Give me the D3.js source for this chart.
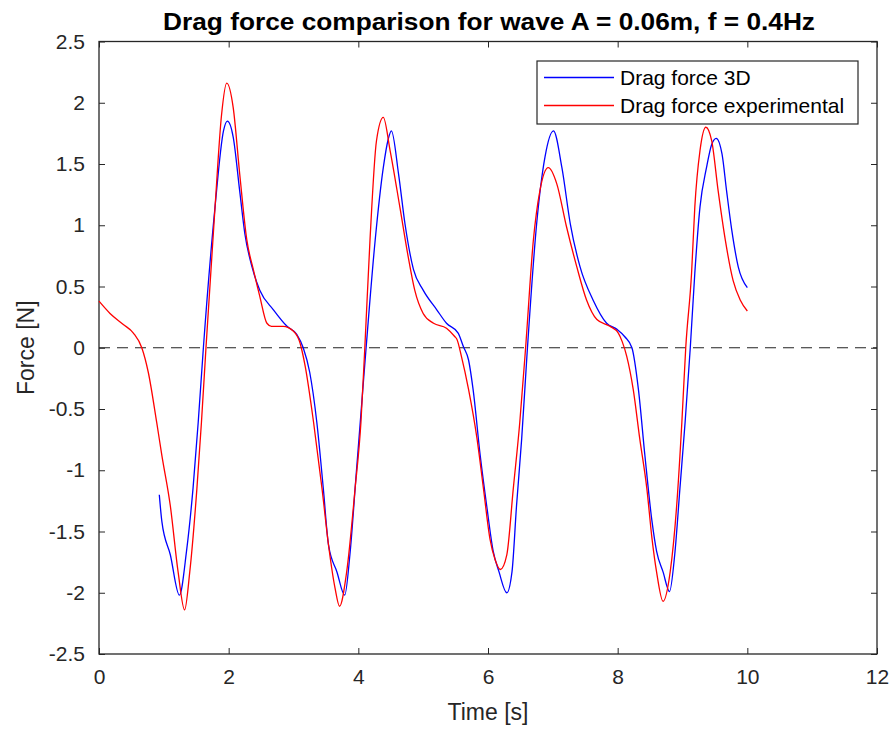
<!DOCTYPE html>
<html>
<head>
<meta charset="utf-8">
<script src="https://cdn.jsdelivr.net/npm/d3@7"></script>
<style>
  html, body { margin: 0; padding: 0; background: #fff; }
  svg { display: block; font-family: "Liberation Sans", Arial, Helvetica, sans-serif; }
</style>
</head>
<body>
<svg id="chart" width="896" height="733"></svg>
<script>
// Drag force time series (time in s, force in N)
const timeExp = [0.00,0.17,0.375,0.53,0.66,0.76,0.89,0.97,1.10,1.22,1.32,1.40,1.51,1.58,1.65,1.79,1.89,1.97,2.07,2.17,2.28,2.38,2.48,2.59,2.66,2.84,3.00,3.10,3.12,3.18,3.31,3.44,3.54,3.64,3.71,3.82,3.95,4.04,4.10,4.18,4.28,4.385,4.49,4.64,4.77,4.87,5.00,5.16,5.36,5.49,5.52,5.59,5.70,5.83,5.93,6.03,6.11,6.19,6.29,6.39,6.49,6.58,6.70,6.80,6.93,7.06,7.21,7.37,7.52,7.68,7.88,8.01,8.07,8.14,8.24,8.34,8.45,8.53,8.60,8.70,8.81,8.91,8.99,9.05,9.14,9.19,9.27,9.36,9.45,9.55,9.66,9.78,9.89,10.0];
const forceExp = [0.38,0.28,0.19,0.12,0.00,-0.20,-0.61,-0.88,-1.29,-1.83,-2.14,-1.83,-1.15,-0.61,0.00,1.15,1.90,2.16,1.96,1.42,0.88,0.64,0.42,0.20,0.175,0.175,0.135,0.04,0.00,-0.15,-0.61,-1.15,-1.61,-1.96,-2.11,-1.83,-1.15,-0.61,0.00,0.88,1.69,1.88,1.61,1.15,0.74,0.47,0.28,0.20,0.16,0.09,0.07,-0.07,-0.34,-0.74,-1.15,-1.56,-1.73,-1.81,-1.69,-1.15,-0.61,0.00,0.88,1.28,1.47,1.34,0.99,0.66,0.39,0.23,0.175,0.12,0.05,-0.07,-0.34,-0.74,-1.15,-1.56,-1.83,-2.07,-1.83,-1.29,-0.61,0.00,0.61,1.15,1.61,1.80,1.69,1.28,0.88,0.55,0.39,0.30];

const time3D = [0.93,0.97,1.10,1.24,1.35,1.45,1.53,1.61,1.79,1.92,1.98,2.07,2.17,2.25,2.36,2.48,2.69,2.90,3.05,3.15,3.25,3.36,3.46,3.54,3.67,3.79,3.87,3.97,4.05,4.12,4.26,4.385,4.46,4.51,4.62,4.72,4.85,5.00,5.21,5.36,5.54,5.62,5.70,5.77,5.88,5.98,6.08,6.17,6.29,6.37,6.44,6.52,6.60,6.75,6.88,7.01,7.14,7.27,7.42,7.62,7.83,7.99,8.11,8.22,8.32,8.42,8.53,8.60,8.70,8.80,8.88,8.96,9.04,9.12,9.19,9.27,9.37,9.45,9.52,9.61,9.68,9.76,9.86,10.0];
const force3D = [-1.20,-1.42,-1.69,-2.02,-1.66,-1.15,-0.61,0.00,1.15,1.77,1.85,1.72,1.28,0.93,0.66,0.47,0.31,0.175,0.11,0.00,-0.20,-0.61,-1.15,-1.61,-1.83,-2.02,-1.69,-1.01,-0.47,0.00,0.88,1.47,1.70,1.77,1.42,1.01,0.64,0.47,0.31,0.20,0.12,0.01,-0.10,-0.34,-0.88,-1.29,-1.66,-1.83,-2.00,-1.83,-1.29,-0.74,-0.07,1.01,1.56,1.77,1.47,1.01,0.66,0.39,0.20,0.15,0.09,0.00,-0.34,-0.88,-1.42,-1.66,-1.83,-1.99,-1.69,-1.15,-0.61,0.00,0.61,1.15,1.47,1.66,1.71,1.58,1.28,0.96,0.66,0.49];

const xTicks = [0, 2, 4, 6, 8, 10, 12];
const yTicks = [-2.5, -2, -1.5, -1, -0.5, 0, 0.5, 1, 1.5, 2, 2.5];
const seriesNames = ["Drag force 3D", "Drag force experimental"];
const seriesColors = ["#0000ff", "#ff0000"];

const axisColor = "#262626";
const svg = d3.select("#chart");
const plot = { left: 99, right: 877, top: 41.5, bottom: 654 };

const x = d3.scaleLinear().domain([0, 12]).range([plot.left, plot.right]);
const y = d3.scaleLinear().domain([-2.5, 2.5]).range([plot.bottom, plot.top]);

// Axes with inward ticks on all four sides (boxed axes)
const tickLen = 6;
function styleAxis(g) {
  g.select(".domain").remove();
  g.selectAll(".tick line").attr("stroke", axisColor).attr("stroke-width", 1);
  g.selectAll(".tick text").attr("fill", axisColor).style("font-size", "21px")
    .style("font-family", "Liberation Sans, Arial, sans-serif");
}
const plainLabel = d => String(d);   // plain hyphen for negatives
svg.append("g").attr("transform", `translate(0,${plot.bottom})`)
  .call(d3.axisBottom(x).tickValues(xTicks).tickSizeInner(-tickLen).tickSizeOuter(0).tickPadding(15).tickFormat(plainLabel))
  .call(styleAxis);
svg.append("g").attr("transform", `translate(0,${plot.top})`)
  .call(d3.axisTop(x).tickValues(xTicks).tickSizeInner(-tickLen).tickSizeOuter(0).tickFormat(""))
  .call(styleAxis);
svg.append("g").attr("transform", `translate(${plot.left},0)`)
  .call(d3.axisLeft(y).tickValues(yTicks).tickSizeInner(-tickLen).tickSizeOuter(0).tickPadding(14).tickFormat(plainLabel))
  .call(styleAxis);
svg.append("g").attr("transform", `translate(${plot.right},0)`)
  .call(d3.axisRight(y).tickValues(yTicks).tickSizeInner(-tickLen).tickSizeOuter(0).tickFormat(""))
  .call(styleAxis);

// Box around the plot area
svg.append("rect")
  .attr("x", plot.left).attr("y", plot.top)
  .attr("width", plot.right - plot.left).attr("height", plot.bottom - plot.top)
  .attr("fill", "none").attr("stroke", axisColor).attr("stroke-width", 1.3);

// Zero reference line
svg.append("line")
  .attr("x1", x(0)).attr("x2", x(12)).attr("y1", y(0)).attr("y2", y(0))
  .attr("stroke", "#222").attr("stroke-width", 1).attr("stroke-dasharray", "11,7");

// Series
const line = d3.line().x(d => x(d[0])).y(d => y(d[1])).curve(d3.curveMonotoneX);
const series = [
  d3.zip(time3D, force3D),
  d3.zip(timeExp, forceExp)
];
series.forEach((pts, i) => {
  svg.append("path").datum(pts)
    .attr("d", line)
    .attr("fill", "none")
    .attr("stroke", seriesColors[i])
    .attr("stroke-width", 1.3)
    .attr("stroke-linejoin", "round");
});

// Title
svg.append("text")
  .attr("x", 489).attr("y", 30)
  .attr("text-anchor", "middle")
  .attr("font-weight", "bold")
  .attr("font-size", 23)
  .attr("fill", "#000")
  .attr("textLength", 652).attr("lengthAdjust", "spacingAndGlyphs")
  .text("Drag force comparison for wave A = 0.06m, f = 0.4Hz");

// Axis labels
svg.append("text")
  .attr("x", 488).attr("y", 720)
  .attr("text-anchor", "middle")
  .attr("font-size", 23)
  .attr("fill", axisColor)
  .text("Time [s]");
svg.append("text")
  .attr("transform", `translate(34,${(plot.top + plot.bottom) / 2}) rotate(-90)`)
  .attr("text-anchor", "middle")
  .attr("font-size", 23)
  .attr("fill", axisColor)
  .text("Force [N]");

// Legend
const legend = svg.append("g");
legend.append("rect")
  .attr("x", 537).attr("y", 61).attr("width", 321).attr("height", 63)
  .attr("fill", "#fff").attr("stroke", axisColor).attr("stroke-width", 1.2);
seriesNames.forEach((name, i) => {
  const ly = 77.5 + i 
    * 28;
  legend.append("line")
    .attr("x1", 544).attr("x2", 614).attr("y1", ly).attr("y2", ly)
    .attr("stroke", seriesColors[i]).attr("stroke-width", 1.3);
  legend.append("text")
    .attr("x", 620).attr("y", ly + 7.5)
    .attr("font-size", 21)
    .attr("fill", "#000")
    .text(name);
});
</script>
</body>
</html>
